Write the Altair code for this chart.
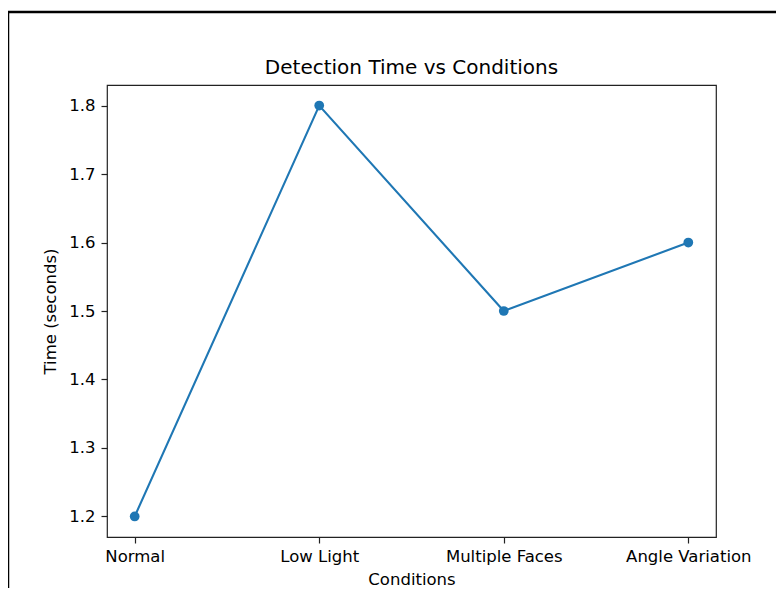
import altair as alt
import pandas as pd

title_text = "Detection Time vs Conditions"
conditions = ["Normal", "Low Light", "Multiple Faces", "Angle Variation"]
times = [1.2, 1.8, 1.5, 1.6]
y_ticks = [1.2, 1.3, 1.4, 1.5, 1.6, 1.7, 1.8]

df = pd.DataFrame({"Conditions": conditions, "Time": times})
FONT = "DejaVu Sans"
BLUE = "#1f77b4"

x_enc = alt.X(
    "Conditions:N",
    sort=conditions,
    scale=alt.Scale(type="point", padding=0.15),
    axis=alt.Axis(
        title="Conditions", labelAngle=0, grid=False, tickSize=6,
        labelPadding=5, titlePadding=7, domain=False,
    ),
)
y_enc = alt.Y(
    "Time:Q",
    scale=alt.Scale(domain=[1.17, 1.83], nice=False, zero=False),
    axis=alt.Axis(
        title="Time (seconds)", values=y_ticks, format=".1f", grid=False,
        tickSize=6, labelPadding=6, titlePadding=10, domain=False,
    ),
)

base = alt.Chart(df).encode(x=x_enc, y=y_enc)
line = base.mark_line(color=BLUE, strokeWidth=2.1)
points = base.mark_point(filled=True, color=BLUE, size=95, opacity=1)

one = pd.DataFrame({"a": [0]})
frame = alt.Chart(one).mark_rect(
    fillOpacity=0, stroke="black", strokeWidth=2.5
).encode(
    x=alt.value(-99), x2=alt.value(3000), y=alt.value(-73), y2=alt.value(3000)
)
title = alt.Chart(one).mark_text(
    text=title_text, font=FONT, fontSize=20, color="black",
    align="center", baseline="alphabetic",
).encode(x=alt.value(304.5), y=alt.value(-11))

chart = alt.layer(frame, line, points, title).properties(
    width=609,
    height=452,
    padding={"left": 99, "top": 77, "right": 60, "bottom": 51},
    autosize=alt.AutoSizeParams(type="none"),
).configure(
    background="white"
).configure_view(
    stroke="#222", strokeWidth=1.2
).configure_axis(
    labelFont=FONT, titleFont=FONT, labelFontSize=16.5, titleFontSize=16.5,
    labelColor="black", titleColor="black", titleFontWeight="normal",
    tickColor="#222", tickWidth=1.2,
)

chart.save("out.html", embed_options={"renderer": "svg", "actions": False})
